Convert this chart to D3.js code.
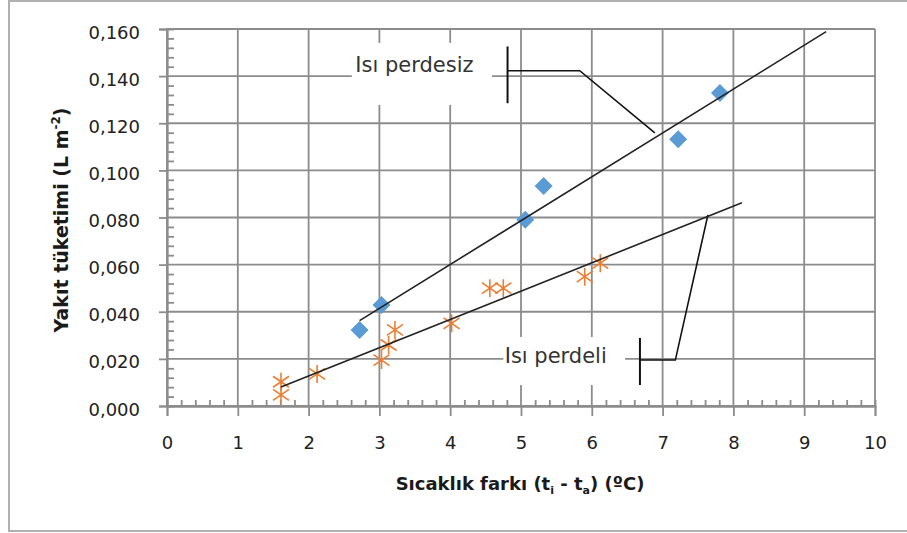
<!DOCTYPE html>
<html><head><meta charset="utf-8">
<script src="https://cdn.jsdelivr.net/npm/d3@7"></script>
<style>body{margin:0;background:#fff}svg{display:block}</style>
</head><body>
<svg id="c" width="907" height="533"></svg>
<script>
// ---- data ----
const xTicks = [0,1,2,3,4,5,6,7,8,9,10];
const yTicks = [0,0.02,0.04,0.06,0.08,0.10,0.12,0.14,0.16];
const seriesNames = ["Isı perdesiz","Isı perdeli"];
const perdesizX = [2.72,3.03,5.06,5.32,7.22,7.81];
const perdesizY = [0.0323,0.0429,0.079,0.0934,0.1132,0.1328];
const perdeliX = [1.61,1.61,2.12,3.03,3.13,3.22,4.02,4.56,4.75,5.90,6.12];
const perdeliY = [0.0103,0.0047,0.0136,0.0195,0.0259,0.0323,0.0351,0.050,0.050,0.0549,0.0606];
const trendForward = [1.5, 2.0];   // Excel trendline forward forecast (x units)

// ---- layout ----
const W = 907, H = 533;
const L = 167, R = 875, T = 29, B = 406;
const gridColor = "#8c8c8c";
const FONT = "'DejaVu Sans', sans-serif";

const svg = d3.select("#c");
const x = d3.scaleLinear().domain([0,10]).range([L,R]);
const y = d3.scaleLinear().domain([0,0.16]).range([B,T]);

// outer border
svg.append("rect").attr("x",9).attr("y",1).attr("width",W).attr("height",530)
  .attr("fill","#fff").attr("stroke","#b0b0b0").attr("stroke-width",2);

// gridlines
const g = svg.append("g");
g.selectAll(".vg").data(xTicks).join("line")
  .attr("x1",d=>x(d)).attr("x2",d=>x(d)).attr("y1",y(0)).attr("y2",y(0.16))
  .attr("stroke",gridColor).attr("stroke-width",1.8);
g.selectAll(".hg").data(yTicks).join("line")
  .attr("x1",x(0)).attr("x2",x(10)).attr("y1",d=>y(d)).attr("y2",d=>y(d))
  .attr("stroke",gridColor).attr("stroke-width",1.8);

// axes
const fmt = d => d3.format(".3f")(d).replace(".",",");
const yAxis = svg.append("g").attr("transform",`translate(${L},0)`)
  .call(d3.axisLeft(y).tickValues(yTicks).tickFormat(fmt).tickSize(8).tickPadding(19));
const yMinor = d3.range(0,161,4).filter(v=>v%20!==0).map(v=>v/1000);
svg.append("g").attr("transform",`translate(${L},0)`)
  .call(d3.axisLeft(y).tickValues(yMinor).tickFormat("").tickSize(-7));
const xAxis = svg.append("g").attr("transform",`translate(0,${B})`)
  .call(d3.axisBottom(x).tickValues(xTicks).tickFormat(d3.format("d")).tickSize(10).tickPadding(20));
const xMinor = d3.range(0,101,2).filter(v=>v%10!==0).map(v=>v/10);
svg.append("g").attr("transform",`translate(0,${B})`)
  .call(d3.axisBottom(x).tickValues(xMinor).tickFormat("").tickSize(-6));
svg.selectAll(".domain").attr("stroke",gridColor).attr("stroke-width",1.8);
svg.selectAll(".tick line").attr("stroke",gridColor).attr("stroke-width",1.8);
svg.selectAll(".tick text").attr("font-family",FONT).attr("font-size",18).attr("fill","#222");
yAxis.selectAll(".tick text").attr("dy","0.5em");

// axis titles
const xt = svg.append("text").attr("x",520).attr("y",490).attr("text-anchor","middle")
  .attr("font-family",FONT).attr("font-weight","bold").attr("font-size",18).attr("fill","#1a1a1a");
xt.append("tspan").text("Sıcaklık farkı (t");
xt.append("tspan").attr("font-size",11).attr("dy",4).text("i");
xt.append("tspan").attr("dy",-4).text(" - t");
xt.append("tspan").attr("font-size",11).attr("dy",4).text("a");
xt.append("tspan").attr("dy",-4).text(") (ºC)");

const yt = svg.append("text").attr("transform","translate(68,220) rotate(-90)").attr("text-anchor","middle")
  .attr("font-family",FONT).attr("font-weight","bold").attr("font-size",19).attr("fill","#1a1a1a");
yt.append("tspan").text("Yakıt tüketimi (L m");
yt.append("tspan").attr("font-size",12).attr("dy",-8).text("-2");
yt.append("tspan").attr("dy",8).text(")");

// callouts (data coordinates)
const callouts = [
  {name:seriesNames[0], box:[2.61,4.59,0.1541,0.1278], text:[2.66,0.1418],
   bar:[4.81,0.1526,0.1285], path:[[4.81,0.1423],[5.83,0.1423],[6.89,0.1159]]},
  {name:seriesNames[1], box:[4.75,6.47,0.0293,0.0089], text:[4.77,0.0183],
   bar:[6.68,0.0289,0.0089], path:[[6.68,0.0195],[7.18,0.0195],[7.64,0.0811]]}
];
callouts.forEach(c=>{
  svg.append("rect").attr("x",x(c.box[0])).attr("y",y(c.box[2]))
    .attr("width",x(c.box[1])-x(c.box[0])).attr("height",y(c.box[3])-y(c.box[2])).attr("fill","#fff");
  svg.append("text").attr("x",x(c.text[0])).attr("y",y(c.text[1]))
    .attr("font-family",FONT).attr("font-size",21).attr("fill","#333").text(c.name);
  svg.append("line").attr("x1",x(c.bar[0])).attr("x2",x(c.bar[0]))
    .attr("y1",y(c.bar[1])).attr("y2",y(c.bar[2])).attr("stroke","#111").attr("stroke-width",2);
  svg.append("path").attr("d",d3.line().x(d=>x(d[0])).y(d=>y(d[1]))(c.path))
    .attr("fill","none").attr("stroke","#111").attr("stroke-width",1.6);
});

// markers
const blue = perdesizX.map((v,i)=>[v,perdesizY[i]]);
const orange = perdeliX.map((v,i)=>[v,perdeliY[i]]);
svg.append("g").selectAll("path").data(blue).join("path")
  .attr("transform",d=>`translate(${x(d[0])},${y(d[1])})`)
  .attr("d","M0,-9L9,0L0,9L-9,0Z").attr("fill","#5B9BD5");
svg.append("g").selectAll("path").data(orange).join("path")
  .attr("transform",d=>`translate(${x(d[0])},${y(d[1])})`)
  .attr("d","M0,-9V9M-8,-5.5L8,5.5M-8,5.5L8,-5.5").attr("fill","none")
  .attr("stroke","#ED7D31").attr("stroke-width",1.6);

// linear trendlines (least squares), with forward forecast
function trend(pts, fwd){
  const mx=d3.mean(pts,d=>d[0]), my=d3.mean(pts,d=>d[1]);
  const sxy=d3.sum(pts,d=>(d[0]-mx)*(d[1]-my)), sxx=d3.sum(pts,d=>(d[0]-mx)**2);
  const m=sxy/sxx, b=my-m*mx;
  const x0=d3.min(pts,d=>d[0]), x1=d3.max(pts,d=>d[0])+fwd;
  return [[x0,m*x0+b],[x1,m*x1+b]];
}
[[blue,trendForward[0]],[orange,trendForward[1]]].forEach(([pts,f])=>{
  svg.append("path").attr("d",d3.line().x(d=>x(d[0])).y(d=>y(d[1]))(trend(pts,f)))
    .attr("fill","none").attr("stroke","#222").attr("stroke-width",1.6);
});
</script>
</body></html>
